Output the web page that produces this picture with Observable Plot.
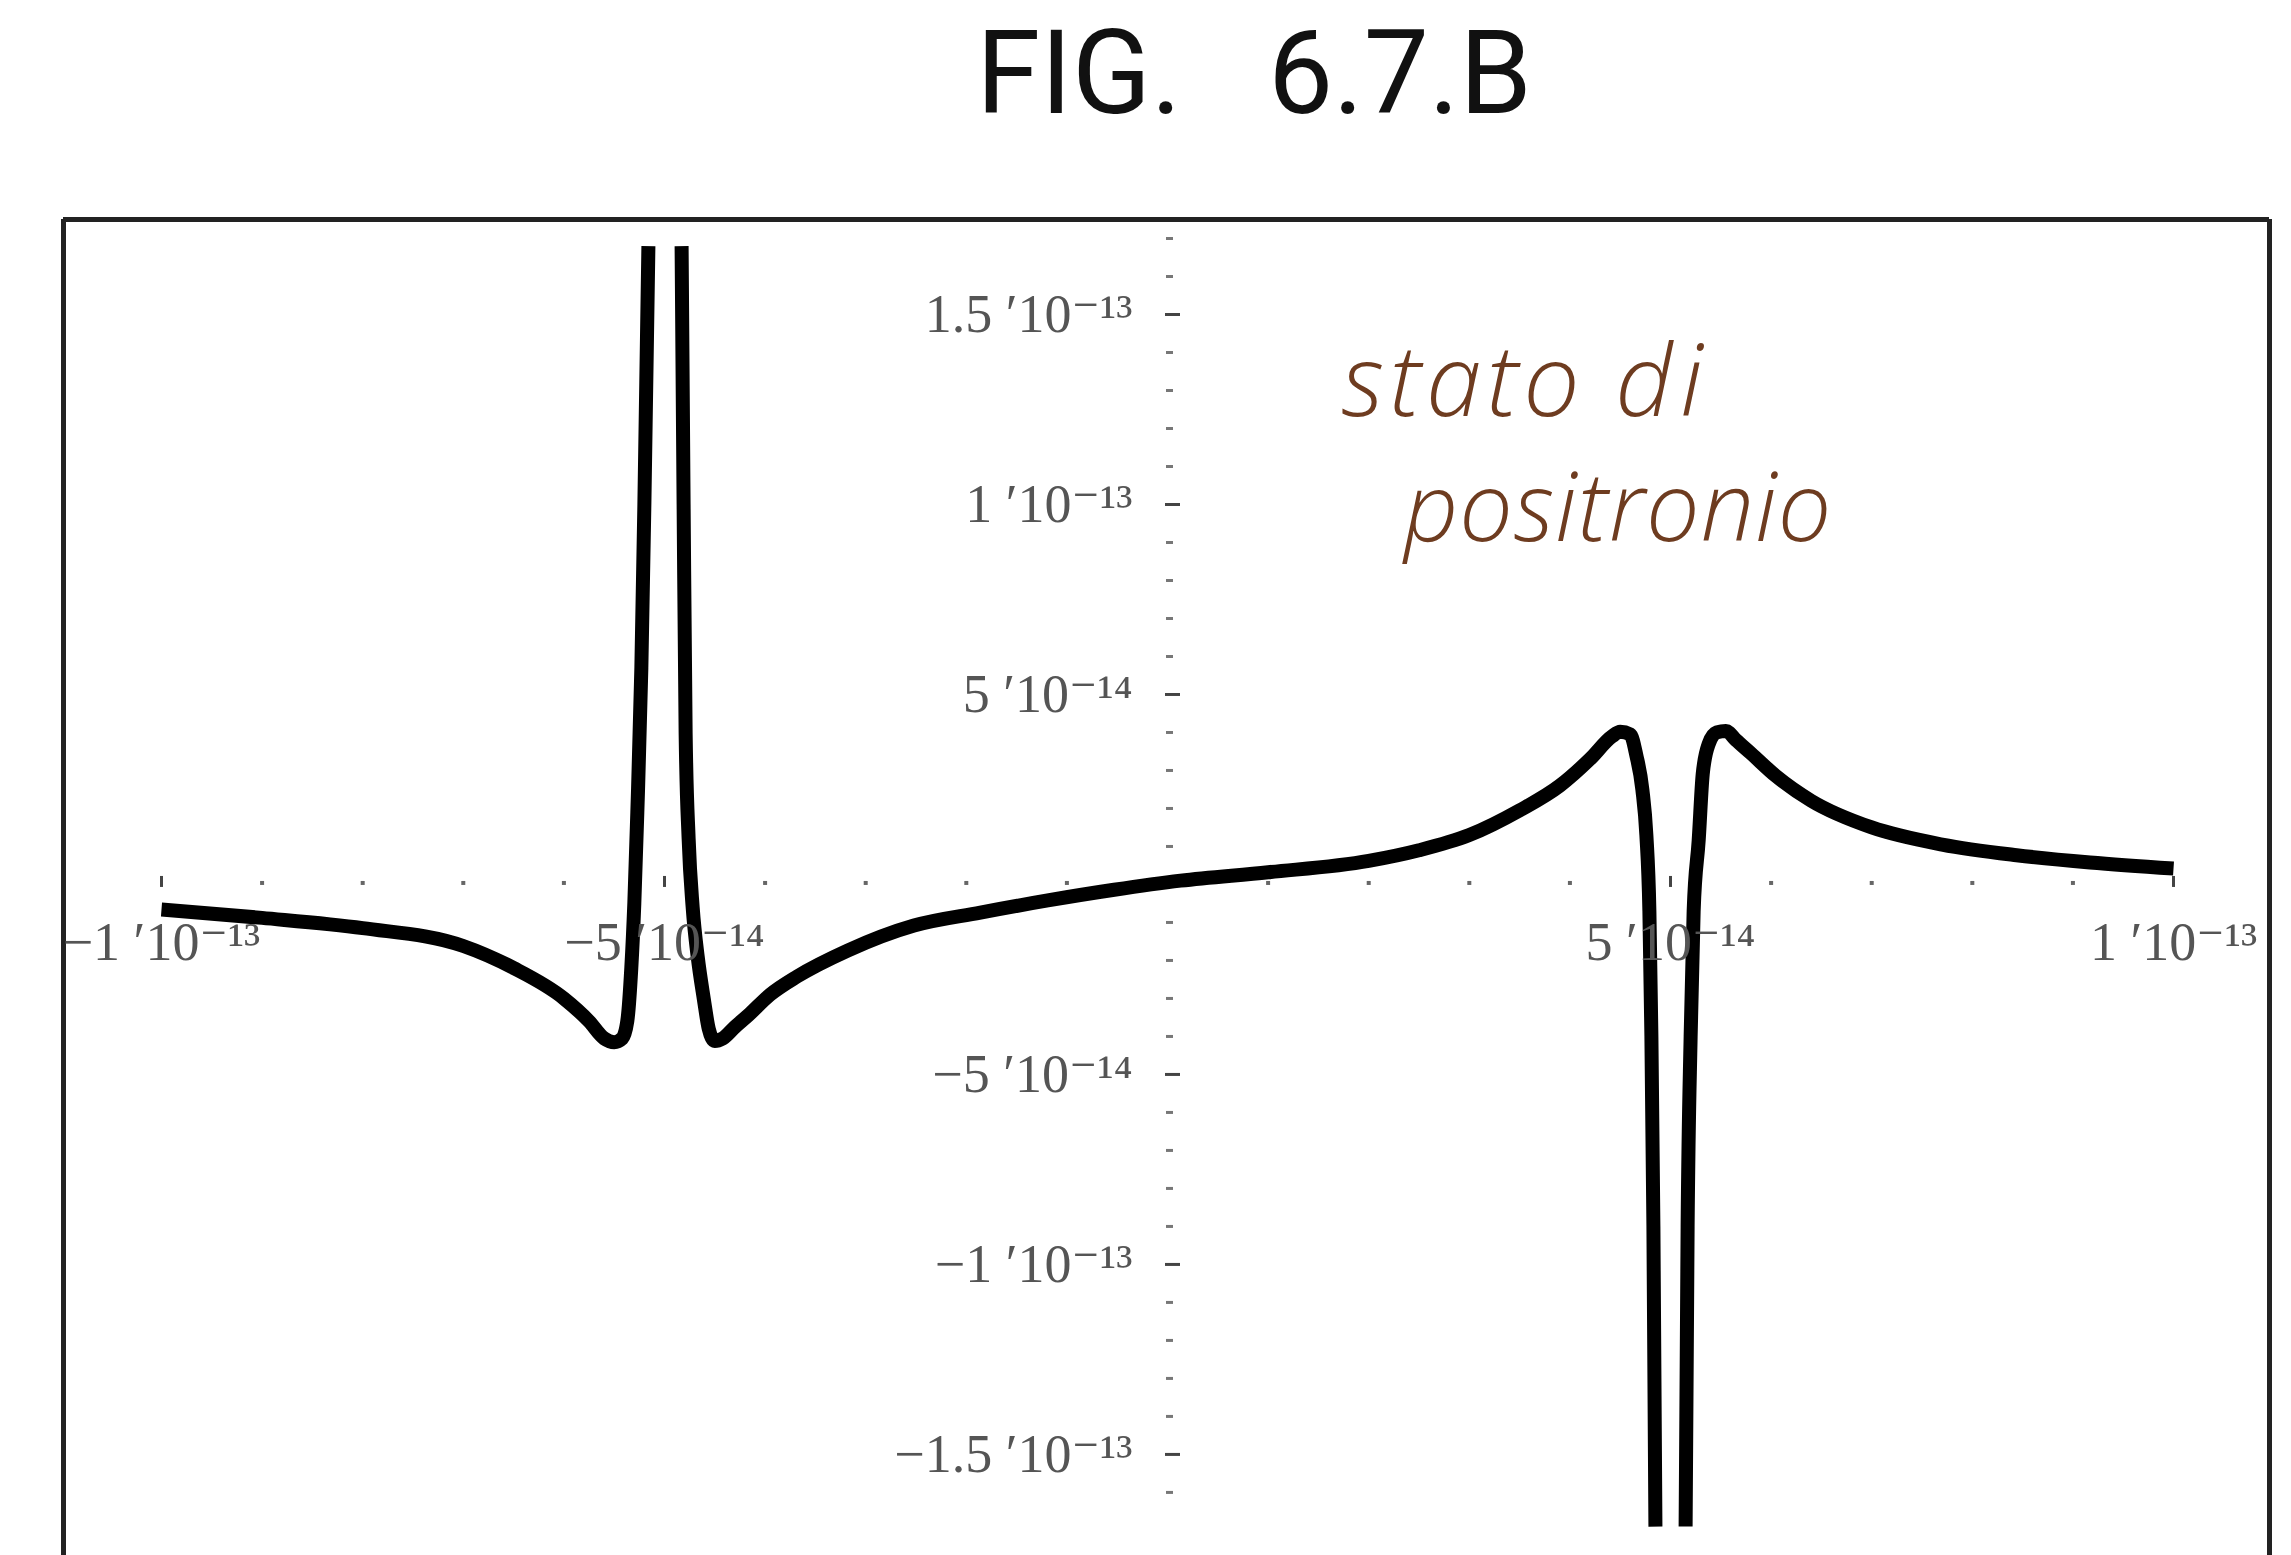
<!DOCTYPE html>
<html><head><meta charset="utf-8">
<script src="https://cdn.jsdelivr.net/npm/d3@7"></script>
<script src="https://cdn.jsdelivr.net/npm/@observablehq/plot@0.6"></script>
<style>
html,body{margin:0;padding:0;background:#fff;}
#title{position:relative;height:200px;width:2291px;}
#title span{position:absolute;left:1254px;top:15px;transform:translateX(-50%);font-family:Roboto,"Noto Sans",sans-serif;font-size:116px;line-height:116px;white-space:pre;color:#111;}
#chart svg{display:block;}
.hand-stato text{letter-spacing:5px;}
.hand-di text{letter-spacing:8px;}
.hand-pos text{letter-spacing:1px;}
</style></head><body>
<div id="title"><span>FIG.   6.7.B</span></div>
<div id="chart"></div>
<script>
// values are in units of 1e-14
const UNIT = 1e-14;

// left branch (x < -5e-14)
const segA_x = [-10, -9, -8, -7, -6.5, -6, -5.75, -5.6, -5.5, -5.42, -5.37, -5.33, -5.3, -5.27, -5.23, -5.2, -5.16];
const segA_y = [-0.66, -0.88, -1.15, -1.62, -2.2, -3.0, -3.6, -4.05, -4.15, -4.05, -3.6, -2.2, -0.5, 1.9, 5.7, 10, 16.8];

// middle branch (-5e-14 < x < 5e-14)
const segB_x = [-4.83, -4.81, -4.79, -4.76, -4.72, -4.67, -4.61, -4.56, -4.5, -4.42, -4.3, -4.17, -3.95, -3.68, -3.18, -2.52, -1.86, -1.19, -0.53, 0.13, 1.0, 2.0, 2.5, 3.0, 3.5, 3.9, 4.2, 4.42, 4.5, 4.6, 4.66, 4.72, 4.76, 4.79, 4.81, 4.83, 4.85];
const segB_y = [16.8, 10, 4, 1.2, -0.6, -1.9, -3.0, -3.8, -4.12, -4.05, -3.75, -3.45, -2.9, -2.42, -1.74, -1.08, -0.74, -0.42, -0.14, 0.1, 0.32, 0.62, 0.9, 1.3, 1.95, 2.6, 3.3, 3.9, 4.02, 3.95, 3.4, 2.5, 1.3, -0.7, -4, -9, -16.9];

// right branch (x > 5e-14)
const segC_x = [5.15, 5.17, 5.2, 5.23, 5.28, 5.32, 5.38, 5.46, 5.55, 5.65, 5.8, 6.05, 6.4, 7.0, 7.7, 8.44, 9.17, 10];
const segC_y = [-16.9, -9, -4, -0.7, 1.16, 2.9, 3.7, 4.0, 4.04, 3.8, 3.45, 2.85, 2.2, 1.5, 1.05, 0.77, 0.58, 0.42];

// ticks and labels
const xMajor = [-10, -5, 5, 10];
const xTickLabels = ["\u22121 \u203210\u207b\u00b9\u00b3", "\u22125 \u203210\u207b\u00b9\u2074", "5 \u203210\u207b\u00b9\u2074", "1 \u203210\u207b\u00b9\u00b3"];
const xMinor = [-9, -8, -7, -6, -4, -3, -2, -1, 1, 2, 3, 4, 6, 7, 8, 9];
const yMajor = [15, 10, 5, -5, -10, -15];
const yTickLabels = ["1.5 \u203210\u207b\u00b9\u00b3", "1 \u203210\u207b\u00b9\u00b3", "5 \u203210\u207b\u00b9\u2074", "\u22125 \u203210\u207b\u00b9\u2074", "\u22121 \u203210\u207b\u00b9\u00b3", "\u22121.5 \u203210\u207b\u00b9\u00b3"];
const yMinor = [17, 16, 14, 13, 12, 11, 9, 8, 7, 6, 4, 3, 2, 1, -1, -2, -3, -4, -6, -7, -8, -9, -11, -12, -13, -14, -16];

const curve = [];
[[segA_x, segA_y, "A"], [segB_x, segB_y, "B"], [segC_x, segC_y, "C"]].forEach(([xs, ys, s]) => {
  xs.forEach((x, i) => curve.push({seg: s, x: x * UNIT, y: ys[i] * UNIT}));
});

const xDom = [-10.974 * UNIT, 10.954 * UNIT];
const yDom = [-17.66 * UNIT, 17.5 * UNIT];
const labelFont = "'Liberation Serif', 'DejaVu Serif', serif";
const handFont = "'Open Sans', Lato, sans-serif";
const handStyle = {textAnchor: "start", lineAnchor: "bottom", fontFamily: handFont, fontWeight: 300, fontStyle: "italic", fill: "#6e3c20"};

const chart = Plot.plot({
  width: 2291, height: 1355,
  marginTop: 19, marginBottom: 0, marginLeft: 63, marginRight: 22,
  x: {domain: xDom, axis: null},
  y: {domain: yDom, axis: null},
  style: {background: "white", overflow: "visible"},
  marks: [
    // frame (top, left, right; bottom is outside the picture)
    Plot.ruleY([yDom[1]], {stroke: "#222", strokeWidth: 5}),
    Plot.ruleX(xDom, {stroke: "#222", strokeWidth: 5}),
    // x axis ticks
    Plot.ruleX(xMinor.map(d => d * UNIT), {x: d => d, y1: 0, y2: 0, insetTop: -3, insetBottom: -1, stroke: "#666", strokeWidth: 4}),
    Plot.ruleX(xMajor.map(d => d * UNIT), {x: d => d, y1: 0, y2: 0, insetTop: -8, insetBottom: -3, stroke: "#444", strokeWidth: 3}),
    // y axis ticks
    Plot.ruleY(yMinor.map(d => d * UNIT), {y: d => d, x1: 0, x2: 0, insetLeft: -1, insetRight: -6, stroke: "#777", strokeWidth: 3}),
    Plot.ruleY(yMajor.map(d => d * UNIT), {y: d => d, x1: 0, x2: 0, insetLeft: -2, insetRight: -13, stroke: "#444", strokeWidth: 3}),
    // curve
    Plot.line(curve, {x: "x", y: "y", z: "seg", stroke: "black", strokeWidth: 14, curve: "monotone-x", strokeLinejoin: "round", strokeLinecap: "butt"}),
    // tick labels
    Plot.text(xMajor.map(d => d * UNIT), {x: d => d, y: 0, text: (d, i) => xTickLabels[i], dy: 58, textAnchor: "middle", lineAnchor: "middle", fontSize: 54, fontFamily: labelFont, fill: "#555"}),
    Plot.text(yMajor.map(d => d * UNIT), {x: 0, y: d => d, text: (d, i) => yTickLabels[i], dx: -35, textAnchor: "end", lineAnchor: "middle", fontSize: 54, fontFamily: labelFont, fill: "#555"}),
    // handwritten annotation
    Plot.text(["stato"], {x: 1.73 * UNIT, y: 12.32 * UNIT, text: d => d, fontSize: 100, className: "hand-stato", ...handStyle}),
    Plot.text(["di"], {x: 4.45 * UNIT, y: 12.32 * UNIT, text: d => d, fontSize: 100, className: "hand-di", ...handStyle}),
    Plot.text(["positronio"], {x: 2.35 * UNIT, y: 9.03 * UNIT, text: d => d, fontSize: 95, className: "hand-pos", ...handStyle})
  ]
});
document.getElementById("chart").appendChild(chart);
</script>
</body></html>
